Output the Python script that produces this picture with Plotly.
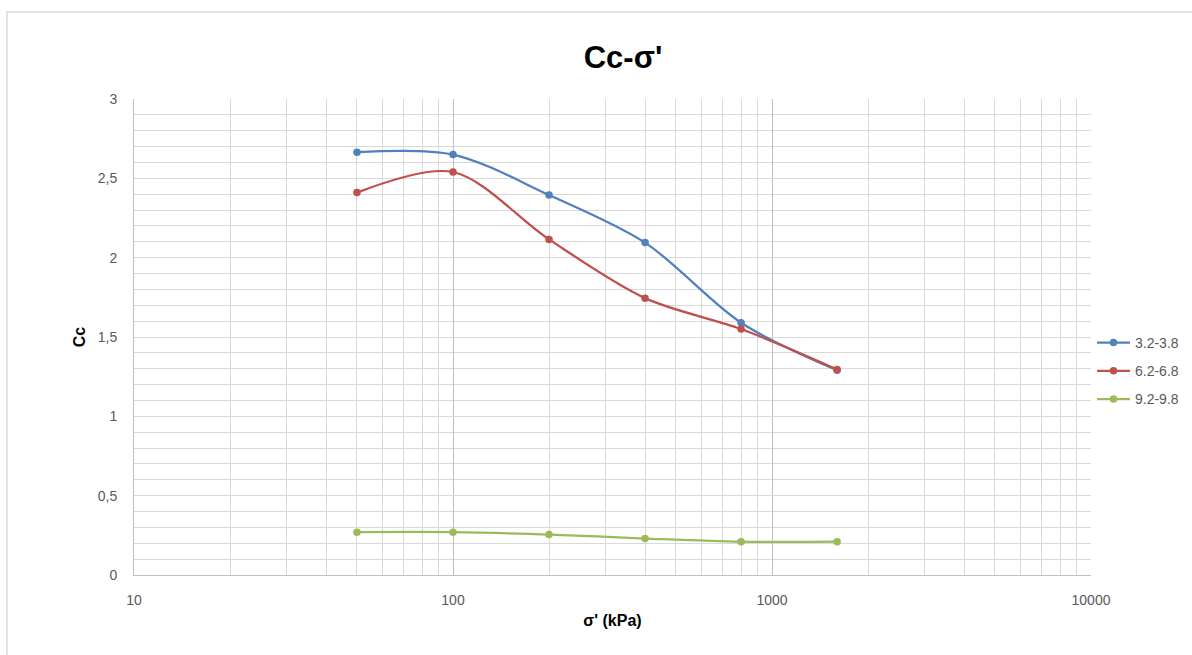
import plotly.graph_objects as go

# Effective stress (kPa) and compression index per depth interval
stress = [50, 100, 200, 400, 800, 1600]
cc_32_38 = [2.665, 2.65, 2.395, 2.095, 1.59, 1.29]
cc_62_68 = [2.41, 2.54, 2.115, 1.745, 1.55, 1.295]
cc_92_98 = [0.27, 0.27, 0.255, 0.23, 0.21, 0.21]

series_names = ["3.2-3.8", "6.2-6.8", "9.2-9.8"]
series_colors = ["#4f81bd", "#c0504d", "#9bbb59"]

x_tick_vals = [10, 100, 1000, 10000]
x_tick_text = ["10", "100", "1000", "10000"]
y_tick_vals = [0, 0.5, 1, 1.5, 2, 2.5, 3]
y_tick_text = ["0", "0,5", "1", "1,5", "2", "2,5", "3"]

W, H = 1192, 655
L, R, T, B = 134, 101, 99, 80

fig = go.Figure()
for i, (name, ys, col) in enumerate(zip(series_names, [cc_32_38, cc_62_68, cc_92_98], series_colors)):
    fig.add_trace(go.Scatter(
        x=stress, y=ys, name=name, mode="lines+markers",
        line=dict(color=col, width=2.25, shape="spline", smoothing=0.9),
        marker=dict(color=col, size=7.5),
        legendgroup=f"g{i}",
    ))

minor_x = [m * d for d in (10, 100, 1000) for m in range(2, 10)]

fig.update_xaxes(
    type="log", range=[1, 4],
    tickmode="array", tickvals=x_tick_vals, ticktext=x_tick_text,
    showgrid=True, gridcolor="#bfbfbf", gridwidth=1,
    minor=dict(tickmode="array", tickvals=minor_x, showgrid=True, gridcolor="#d9d9d9", gridwidth=1),
    showline=True, linecolor="#bfbfbf", linewidth=1,
    zeroline=False, ticks="", ticklabelstandoff=12,
    tickfont=dict(family="Liberation Sans", size=14, color="#595959"),
    title=dict(text="<b>σ' (kPa)</b>", font=dict(family="Liberation Sans", size=16, color="#000000"), standoff=8),
)
fig.update_yaxes(
    range=[0, 3],
    tickmode="array", tickvals=y_tick_vals, ticktext=y_tick_text,
    showgrid=True, gridcolor="#d9d9d9", gridwidth=1,
    minor=dict(dtick=0.1, showgrid=True, gridcolor="#d9d9d9", gridwidth=1),
    showline=True, linecolor="#bfbfbf", linewidth=1,
    zeroline=False, ticks="", ticklabelstandoff=13,
    tickfont=dict(family="Liberation Sans", size=14, color="#595959"),
    title=dict(text="<b>Cc</b>", font=dict(family="Liberation Sans", size=16, color="#000000"), standoff=8),
)

pw, ph = W - L - R, H - T - B


def px_to_paper(px, py):
    return (px - L) / pw, (H - B - py) / ph


x0, y0 = px_to_paper(7, 12)
x1, y1 = px_to_paper(1230, 700)
fig.add_shape(type="rect", xref="paper", yref="paper", x0=x0, y0=y1, x1=x1, y1=y0,
              line=dict(color="#d9d9d9", width=1.5), layer="below")

fig.update_layout(
    width=W, height=H,
    margin=dict(l=L, r=R, t=T, b=B, autoexpand=False),
    paper_bgcolor="white", plot_bgcolor="white",
    title=dict(text="<b>Cc-σ'</b>", x=623 / W, xanchor="center", y=1 - 57 / H, yanchor="middle",
               font=dict(family="Liberation Sans", size=31, color="#000000")),
    legend=dict(x=px_to_paper(1092, 0)[0], xanchor="left", y=px_to_paper(0, 327)[1], yanchor="top",
                font=dict(family="Liberation Sans", size=14, color="#595959"),
                tracegroupgap=7, itemwidth=33, bgcolor="rgba(0,0,0,0)"),
    showlegend=True,
)

fig.write_html("out.html")
